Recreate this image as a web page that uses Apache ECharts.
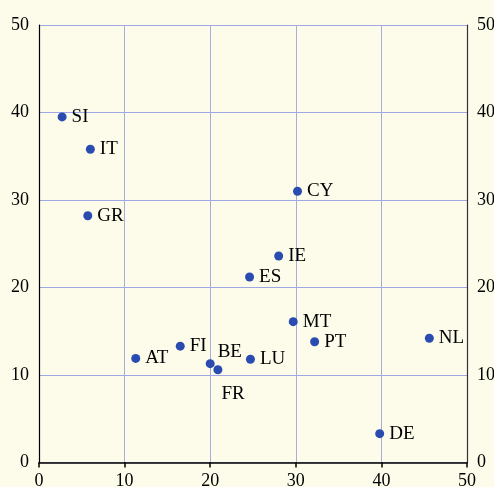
<!DOCTYPE html>
<html>
<head>
<meta charset="utf-8">
<script src="https://cdn.jsdelivr.net/npm/echarts@6/dist/echarts.min.js"></script>
<style>
  html, body { margin: 0; padding: 0; background: #fdfcea; }
  #main { width: 494px; height: 487px; }
</style>
</head>
<body>
<div id="main"></div>
<script>
var countries = ['SI', 'IT', 'GR', 'CY', 'IE', 'ES', 'MT', 'PT', 'NL', 'FI', 'AT', 'BE', 'FR', 'LU', 'DE'];
var xValues = [2.7, 6.0, 5.7, 30.2, 28.0, 24.6, 29.7, 32.2, 45.6, 16.5, 11.3, 20.0, 20.9, 24.7, 39.8];
var yValues = [39.5, 35.8, 28.2, 31.0, 23.6, 21.2, 16.1, 13.8, 14.2, 13.3, 11.9, 11.3, 10.6, 11.8, 3.3];
var axisTicks = [0, 10, 20, 30, 40, 50];

// a few labels sit off the usual right-hand spot
var labelOffsets = { BE: [-2, -12], FR: [-6, 24] };

var chartDom = document.getElementById('main');
var myChart = echarts.init(chartDom);

var points = countries.map(function (c, i) {
  var item = { value: [xValues[i], yValues[i]], name: c };
  if (labelOffsets[c]) {
    item.label = { offset: labelOffsets[c] };
  }
  return item;
});

var tickFont = { color: '#000', fontFamily: 'Liberation Serif', fontSize: 18 };

var option = {
  backgroundColor: '#fdfcea',
  animation: false,
  grid: { left: 39, right: 27, top: 25, bottom: 24.5, outerBoundsMode: 'none', containLabel: false },
  xAxis: {
    type: 'value',
    min: axisTicks[0],
    max: axisTicks[axisTicks.length - 1],
    interval: 10,
    axisLine: { lineStyle: { color: '#000', width: 1.5 } },
    axisTick: { show: true, length: 5, lineStyle: { color: '#000', width: 1.5 } },
    axisLabel: Object.assign({ margin: 10 }, tickFont),
    splitLine: { show: true, lineStyle: { color: '#a9addc', width: 1 } }
  },
  yAxis: [
    {
      type: 'value',
      min: 0,
      max: 50,
      interval: 10,
      position: 'left',
      axisLine: { show: true, lineStyle: { color: '#000', width: 1.2 } },
      axisTick: { show: false },
      axisLabel: Object.assign({ margin: 10 }, tickFont),
      splitLine: { show: true, lineStyle: { color: '#a0a7e6', width: 1 } }
    },
    {
      type: 'value',
      min: 0,
      max: 50,
      interval: 10,
      position: 'right',
      axisLine: { show: true, lineStyle: { color: '#333', width: 1.2 } },
      axisTick: { show: false },
      axisLabel: Object.assign({ margin: 10 }, tickFont),
      splitLine: { show: false }
    }
  ],
  series: [
    {
      type: 'scatter',
      yAxisIndex: 0,
      symbolSize: 9,
      itemStyle: { color: '#2a4cb0', opacity: 1 },
      label: {
        show: true,
        position: 'right',
        distance: 5,
        formatter: '{b}',
        color: '#000',
        fontFamily: 'Liberation Serif',
        fontSize: 19
      },
      data: points
    }
  ]
};

option && myChart.setOption(option);
</script>
</body>
</html>
